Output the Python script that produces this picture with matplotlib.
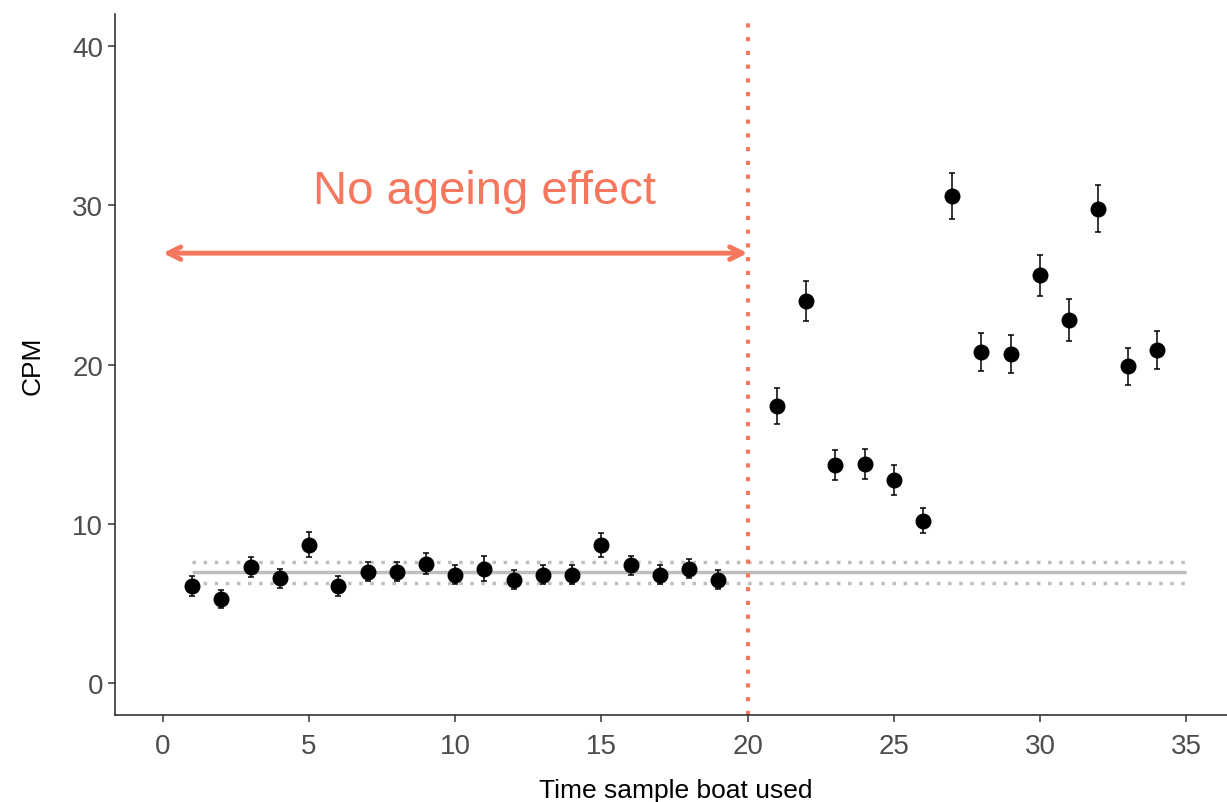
import matplotlib
matplotlib.use("Agg")
import matplotlib.pyplot as plt

plt.rcParams['font.family'] = ['Liberation Sans', 'DejaVu Sans']

# boat use index and measured CPM with error
sample = [1, 2, 3, 4, 5, 6, 7, 8, 9, 10, 11, 12, 13, 14, 15, 16, 17, 18, 19,
          21, 22, 23, 24, 25, 26, 27, 28, 29, 30, 31, 32, 33, 34]
cpm = [6.1, 5.3, 7.3, 6.6, 8.7, 6.1, 7.0, 7.0, 7.5, 6.8, 7.2, 6.5, 6.8, 6.8, 8.7, 7.4, 6.8, 7.2, 6.5,
       17.4, 24.0, 13.7, 13.75, 12.75, 10.2, 30.6, 20.8, 20.65, 25.6, 22.8, 29.8, 19.9, 20.9]
cpm_err = [0.65, 0.55, 0.65, 0.6, 0.8, 0.6, 0.6, 0.6, 0.65, 0.6, 0.8, 0.6, 0.6, 0.6, 0.75, 0.6, 0.6, 0.6, 0.6,
           1.15, 1.25, 0.95, 0.95, 0.95, 0.8, 1.45, 1.2, 1.2, 1.3, 1.3, 1.45, 1.15, 1.2]

# background level (mean and +/- band) from the unaged boats
bg_mean = 7.0
bg_low = 6.28
bg_high = 7.64
bg_start, bg_end = 1, 35

cutoff = 20
arrow_y = 27
label_text = "No ageing effect"
orange = "#F4775E"

fig = plt.figure(figsize=(12.27, 8.03), dpi=100)
ax = fig.add_axes([0.0937, 0.1083, 0.9063, 0.8727])

ax.hlines(bg_mean, bg_start, bg_end, color="#BEBEBE", lw=2.5, zorder=1)
ax.hlines([bg_low, bg_high], bg_start, bg_end, color="#BEBEBE", lw=2.5,
          linestyles=(0, (1, 2.2)), zorder=1)

ax.axvline(cutoff, color=orange, lw=3, linestyle=(0, (1, 2.3)), zorder=1)

ax.errorbar(sample, cpm, yerr=cpm_err, fmt='o', color='black', ms=10.5,
            elinewidth=1.1, capsize=2, capthick=1.1, zorder=3)

ax.annotate("", xy=(0, arrow_y), xytext=(cutoff, arrow_y),
            arrowprops=dict(arrowstyle="<->,head_length=0.9,head_width=0.45",
                            color=orange, lw=3.5,
                            shrinkA=0, shrinkB=0))
ax.text(11, 30.9, label_text, color=orange, fontsize=34, ha='center', va='center')

ax.set_xlim(-1.64, 36.4)
ax.set_ylim(-2.0, 42.0)
ax.set_xticks([0, 5, 10, 15, 20, 25, 30, 35])
ax.set_yticks([0, 10, 20, 30, 40])

for side in ['top', 'right']:
    ax.spines[side].set_visible(False)
for side in ['left', 'bottom']:
    ax.spines[side].set_color('#333333')
    ax.spines[side].set_linewidth(1.2)

ax.tick_params(axis='both', colors='#333333', labelcolor='#4D4D4D',
               labelsize=20, length=5, width=1.1)
ax.tick_params(axis='x', pad=8)
ax.set_xlabel("Time sample boat used", fontsize=19)
ax.set_ylabel("CPM", fontsize=19)
ax.xaxis.set_label_coords(0.504, -0.09)
ax.yaxis.set_label_coords(-0.063, 0.5)

fig.savefig("out.png", dpi=100)
